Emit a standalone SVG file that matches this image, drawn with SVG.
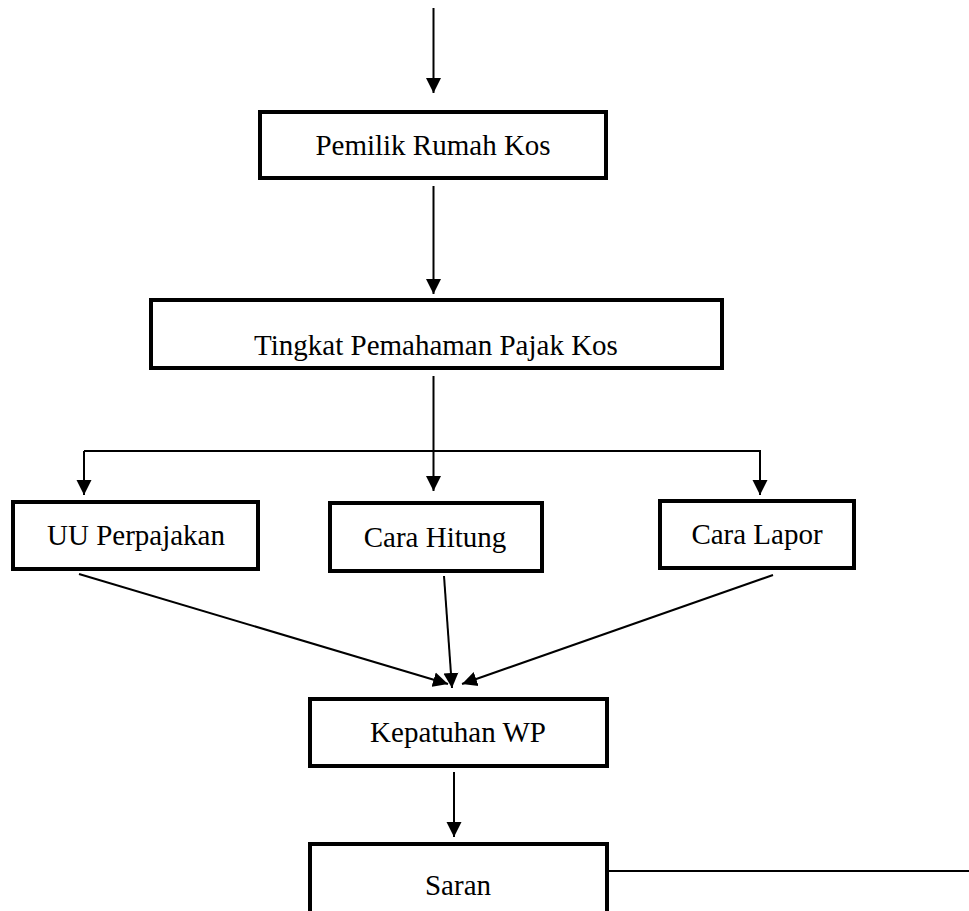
<svg xmlns="http://www.w3.org/2000/svg" width="969" height="911" viewBox="0 0 969 911">
<style>
.box{fill:#fff;stroke:#000;stroke-width:4}
.lbl{font-family:"Liberation Serif","Times New Roman",serif;font-size:29px;fill:#000;text-anchor:middle}
.ln{stroke:#000;stroke-width:2;fill:none}
</style>
<defs>
<marker id="ah" markerUnits="userSpaceOnUse" markerWidth="16" markerHeight="16" viewBox="0 0 16 16" refX="15" refY="8" orient="auto">
<path d="M0,0.5 L15,8 L0,15.5 Z" fill="#000"/>
</marker>
</defs>
<rect width="969" height="911" fill="#fff"/>
<g id="connectors">
<line class="ln" x1="433.5" y1="8" x2="433.5" y2="93" marker-end="url(#ah)"/>
<line class="ln" x1="433.5" y1="186" x2="433.5" y2="294" marker-end="url(#ah)"/>
<line class="ln" x1="433.5" y1="376" x2="433.5" y2="491" marker-end="url(#ah)"/>
<polyline class="ln" points="84,451 760,451 760,495" marker-end="url(#ah)"/>
<line class="ln" x1="84" y1="451" x2="84" y2="495" marker-end="url(#ah)"/>
<line class="ln" x1="79" y1="574" x2="448" y2="684" marker-end="url(#ah)"/>
<line class="ln" x1="444" y1="576" x2="452" y2="688" marker-end="url(#ah)"/>
<line class="ln" x1="773" y1="575" x2="462" y2="684" marker-end="url(#ah)"/>
<line class="ln" x1="454" y1="772" x2="454" y2="837" marker-end="url(#ah)"/>
<line class="ln" x1="608" y1="871" x2="969" y2="871"/>
</g>
<g id="n-pemilik">
<rect class="box" x="260" y="112" width="346" height="66"/>
<text class="lbl" x="433" y="155">Pemilik Rumah Kos</text>
</g>
<g id="n-tingkat">
<rect class="box" x="151" y="300" width="571" height="68"/>
<text class="lbl" x="436" y="355">Tingkat Pemahaman Pajak Kos</text>
</g>
<g id="n-uu">
<rect class="box" x="13" y="502" width="245" height="67"/>
<text class="lbl" x="136" y="545">UU Perpajakan</text>
</g>
<g id="n-hitung">
<rect class="box" x="330" y="503" width="212" height="68"/>
<text class="lbl" x="435" y="547">Cara Hitung</text>
</g>
<g id="n-lapor">
<rect class="box" x="660" y="501" width="194" height="67"/>
<text class="lbl" x="757" y="544">Cara Lapor</text>
</g>
<g id="n-kepatuhan">
<rect class="box" x="310" y="699" width="297" height="67"/>
<text class="lbl" x="458" y="742">Kepatuhan WP</text>
</g>
<g id="n-saran">
<rect class="box" x="310" y="844" width="297" height="70"/>
<text class="lbl" x="458" y="895">Saran</text>
</g>
</svg>
